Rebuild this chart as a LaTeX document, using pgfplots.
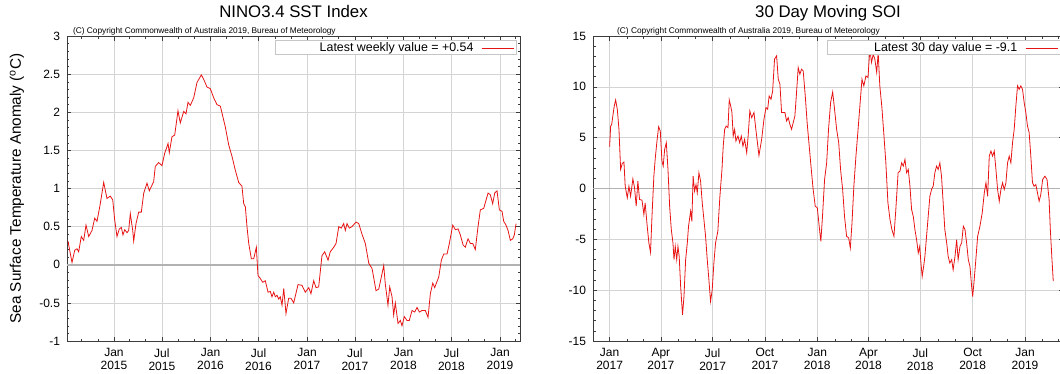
\documentclass[border=0pt]{standalone}
\usepackage{fontspec}
\setmainfont{Liberation Sans}
\usepackage{pgfplots}
\pgfplotsset{compat=1.18}
\definecolor{sstred}{RGB}{232,20,20}
\definecolor{gridgray}{RGB}{212,212,212}
\definecolor{zerogray}{RGB}{178,178,178}
\definecolor{framegray}{RGB}{60,60,60}

\newcommand{\legline}{\hspace{8.4pt}\textcolor{sstred}{\rule[2.9pt]{32.6pt}{0.8pt}}\hspace{7.4pt}}

\pgfplotsset{
  bomstyle/.style={
    scale only axis, height=305pt, anchor=south west,
    clip mode=individual,
    axis line style={framegray, line width=0.7pt},
    tick pos=both, tick align=inside,
    grid=major, major grid style={gridgray, line width=0.6pt},
    tick style={framegray, line width=0.5pt},
    major tick length=4.5pt, minor tick length=2.5pt,
    /pgf/number format/assume math mode=true,
    ticklabel style={font=\fontsize{12}{13}\selectfont},
    xticklabel style={align=center, yshift=-4pt},
    yticklabel style={xshift=-3.5pt},
    extra y ticks={0}, extra y tick labels={},
    extra y tick style={grid=major, major grid style={zerogray, line width=1.5pt}, major tick length=0pt},
    title style={font=\fontsize{16.8}{18}\selectfont, at={(0.5,1)}, anchor=base, yshift=12.3pt},
    legend plot pos=none,
    legend cell align=right,
    legend style={draw=gray!45, line width=0.5pt, fill=white, anchor=north east,
      inner xsep=0pt, inner ysep=0pt, column sep=0pt,
      font=\fontsize{12.4}{12.8}\selectfont, cells={inner sep=0pt}},
  },
  bomline/.style={sstred, line width=0.8pt},
}

\begin{document}
\begin{tikzpicture}
\begin{axis}[bomstyle,
  at={(67pt,32pt)}, width=453pt,
  xmin=2014.513, xmax=2019.207, ymin=-1, ymax=3,
  xtick={2015,2015.4959,2016,2016.4973,2017,2017.4959,2018,2018.4959,2019},
  xticklabels={Jan\\2015,Jul\\2015,Jan\\2016,Jul\\2016,Jan\\2017,Jul\\2017,Jan\\2018,Jul\\2018,Jan\\2019},
  minor xtick={2014.6658,2014.8329,2015.1616,2015.3288,2015.6658,2015.8329,2016.1639,2016.3306,2016.6667,2016.8333,2017.1616,2017.3288,2017.6658,2017.8329,2018.1616,2018.3288,2018.6658,2018.8329,2019.1616},
  ytick={-1,-0.5,0,0.5,1,1.5,2,2.5,3},
  minor y tick num=4,
  title={NINO3.4 SST Index},
  ylabel={Sea Surface Temperature Anomaly (\textsuperscript{o}C)},
  ylabel style={font=\fontsize{15.3}{16}\selectfont, at={(axis description cs:-0.1104,0.5)}, anchor=center},
  legend style={at={(0.9927,0.9869)}},
]
\addplot[bomline] coordinates {
(2014.523,0.31) (2014.565,0.03) (2014.593,0.19) (2014.617,0.21) (2014.634,0.17) (2014.661,0.37)
(2014.686,0.32) (2014.710,0.52) (2014.738,0.37) (2014.772,0.45) (2014.800,0.61) (2014.824,0.57)
(2014.858,0.80) (2014.893,1.08) (2014.927,0.87) (2014.962,0.90) (2014.987,0.85) (2015.007,0.59)
(2015.031,0.37) (2015.055,0.47) (2015.076,0.49) (2015.093,0.39) (2015.111,0.46) (2015.135,0.42)
(2015.152,0.45) (2015.169,0.67) (2015.194,0.45) (2015.204,0.31) (2015.228,0.54) (2015.256,0.69)
(2015.283,0.69) (2015.308,0.94) (2015.342,1.07) (2015.366,0.97) (2015.411,1.09) (2015.428,1.29)
(2015.463,1.34) (2015.497,1.30) (2015.525,1.46) (2015.560,1.59) (2015.573,1.47) (2015.601,1.68)
(2015.629,1.70) (2015.663,2.02) (2015.687,1.86) (2015.722,2.01) (2015.746,1.98) (2015.767,2.13)
(2015.791,2.09) (2015.826,2.19) (2015.860,2.39) (2015.905,2.49) (2015.930,2.43) (2015.964,2.33)
(2015.998,2.31) (2016.033,2.19) (2016.067,2.10) (2016.102,2.08) (2016.153,1.81) (2016.189,1.57)
(2016.223,1.42) (2016.257,1.24) (2016.292,1.08) (2016.326,1.03) (2016.344,0.80) (2016.361,0.76)
(2016.378,0.50) (2016.396,0.28) (2016.423,0.08) (2016.448,0.08) (2016.475,0.23) (2016.492,-0.14)
(2016.516,-0.18) (2016.541,-0.23) (2016.568,-0.21) (2016.596,-0.36) (2016.620,-0.35) (2016.637,-0.42)
(2016.655,-0.36) (2016.672,-0.42) (2016.689,-0.40) (2016.707,-0.45) (2016.723,-0.42) (2016.741,-0.53)
(2016.759,-0.31) (2016.782,-0.64) (2016.810,-0.44) (2016.834,-0.44) (2016.862,-0.50) (2016.907,-0.26)
(2016.948,-0.27) (2016.982,-0.36) (2017.018,-0.30) (2017.041,-0.38) (2017.069,-0.21) (2017.093,-0.30)
(2017.121,-0.29) (2017.155,0.12) (2017.183,0.17) (2017.218,0.06) (2017.241,0.17) (2017.277,0.23)
(2017.301,0.28) (2017.329,0.50) (2017.355,0.48) (2017.380,0.54) (2017.397,0.45) (2017.415,0.54)
(2017.438,0.48) (2017.466,0.50) (2017.508,0.56) (2017.536,0.54) (2017.570,0.40) (2017.604,0.28)
(2017.640,0.02) (2017.674,-0.05) (2017.715,-0.34) (2017.743,-0.32) (2017.777,-0.12) (2017.795,-0.01)
(2017.811,-0.25) (2017.839,-0.53) (2017.857,-0.29) (2017.881,-0.42) (2017.898,-0.66) (2017.915,-0.50)
(2017.943,-0.77) (2017.967,-0.73) (2017.984,-0.80) (2018.008,-0.68) (2018.036,-0.73) (2018.060,-0.73)
(2018.088,-0.60) (2018.116,-0.62) (2018.140,-0.56) (2018.164,-0.62) (2018.192,-0.60) (2018.226,-0.60)
(2018.254,-0.69) (2018.278,-0.38) (2018.303,-0.24) (2018.323,-0.30) (2018.365,-0.16) (2018.392,0.06)
(2018.417,0.14) (2018.451,0.14) (2018.475,0.28) (2018.510,0.52) (2018.537,0.46) (2018.565,0.47)
(2018.589,0.39) (2018.617,0.26) (2018.640,0.23) (2018.668,0.34) (2018.692,0.28) (2018.717,0.28)
(2018.744,0.20) (2018.772,0.50) (2018.796,0.72) (2018.831,0.74) (2018.876,0.94) (2018.899,0.92)
(2018.924,0.80) (2018.945,0.94) (2018.969,0.97) (2018.993,0.72) (2019.021,0.70) (2019.038,0.57)
(2019.062,0.52) (2019.083,0.45) (2019.107,0.32) (2019.132,0.34) (2019.148,0.39) (2019.166,0.54)
};
\addlegendentry{\makebox[196pt][r]{Latest weekly value = +0.54}\legline}
\node[anchor=base west, font=\fontsize{8.3}{9}\selectfont, inner sep=0pt] at (axis description cs:0.0132,1.0082) {(C) Copyright Commonwealth of Australia 2019, Bureau of Meteorology};
\end{axis}

\begin{axis}[bomstyle,
  at={(593pt,32pt)}, width=470pt,
  xmin=2016.920, xmax=2019.183, ymin=-15, ymax=15,
  xtick={2017,2017.2466,2017.4959,2017.7479,2018,2018.2466,2018.4959,2018.7479,2019},
  xticklabels={Jan\\2017,Apr\\2017,Jul\\2017,Oct\\2017,Jan\\2018,Apr\\2018,Jul\\2018,Oct\\2018,Jan\\2019},
  minor xtick={2017.0849,2017.1616,2017.3288,2017.4137,2017.5808,2017.6658,2017.8329,2017.9151,2018.0849,2018.1616,2018.3288,2018.4137,2018.5808,2018.6658,2018.8329,2018.9151,2019.0849,2019.1616},
  ytick={-15,-10,-5,0,5,10,15},
  minor y tick num=4,
  title={30 Day Moving SOI},
  legend style={at={(0.9945,0.9869)}},
]
\addplot[bomline] coordinates {
(2017.000,4.11) (2017.005,6.14) (2017.010,6.30) (2017.021,7.96) (2017.029,8.71) (2017.037,7.79)
(2017.045,5.82) (2017.053,1.87) (2017.061,2.47) (2017.069,2.60) (2017.075,0.23) (2017.085,-0.92)
(2017.093,0.23) (2017.101,-0.76) (2017.112,0.95) (2017.120,0.07) (2017.128,-1.74) (2017.136,0.72)
(2017.144,-1.08) (2017.156,-1.15) (2017.165,-2.56) (2017.171,-1.41) (2017.181,-3.71) (2017.189,-5.36)
(2017.197,-6.28) (2017.204,-2.73) (2017.213,1.21) (2017.220,3.03) (2017.228,4.67) (2017.236,6.08)
(2017.244,5.65) (2017.252,2.69) (2017.258,2.20) (2017.265,3.85) (2017.273,4.51) (2017.281,1.87)
(2017.289,-1.74) (2017.297,-4.04) (2017.305,-5.36) (2017.310,-7.00) (2017.316,-5.69) (2017.323,-7.00)
(2017.329,-5.69) (2017.335,-6.68) (2017.342,-9.63) (2017.351,-12.43) (2017.358,-10.62) (2017.366,-7.00)
(2017.374,-5.36) (2017.380,-3.71) (2017.390,-2.23) (2017.396,-3.22) (2017.402,1.21) (2017.409,-0.26)
(2017.416,0.39) (2017.422,-0.43) (2017.430,1.55) (2017.438,0.72) (2017.446,-1.41) (2017.454,-3.06)
(2017.462,-4.70) (2017.470,-7.00) (2017.478,-8.97) (2017.486,-11.11) (2017.494,-9.96) (2017.502,-7.33)
(2017.510,-5.36) (2017.521,-4.21) (2017.531,-0.76) (2017.541,1.87) (2017.547,4.17) (2017.554,5.82)
(2017.561,6.14) (2017.570,5.99) (2017.576,8.71) (2017.583,8.12) (2017.589,7.47) (2017.595,5.16)
(2017.602,5.82) (2017.608,4.67) (2017.618,5.16) (2017.626,4.51) (2017.634,5.16) (2017.642,4.17)
(2017.650,4.83) (2017.660,3.52) (2017.667,5.16) (2017.675,7.62) (2017.684,6.97) (2017.695,7.47)
(2017.704,5.82) (2017.719,3.25) (2017.732,4.83) (2017.743,6.80) (2017.753,7.96) (2017.761,7.79)
(2017.768,9.10) (2017.777,8.78) (2017.785,9.60) (2017.794,12.72) (2017.804,13.05) (2017.812,10.75)
(2017.820,10.26) (2017.828,7.47) (2017.836,7.47) (2017.844,7.47) (2017.852,6.64) (2017.860,6.97)
(2017.868,6.31) (2017.876,5.82) (2017.884,6.48) (2017.892,7.13) (2017.900,9.44) (2017.908,11.90)
(2017.916,11.24) (2017.924,11.74) (2017.932,11.57) (2017.942,9.10) (2017.951,6.48) (2017.961,4.17)
(2017.971,1.87) (2017.980,-0.10) (2017.990,-1.74) (2018.000,-1.90) (2018.009,-3.71) (2018.017,-5.20)
(2018.025,-2.73) (2018.035,0.89) (2018.045,2.53) (2018.054,5.82) (2018.064,8.45) (2018.074,9.50)
(2018.083,7.79) (2018.093,5.82) (2018.103,4.51) (2018.112,1.87) (2018.122,-0.10) (2018.131,-2.73)
(2018.141,-4.70) (2018.151,-4.86) (2018.159,-5.85) (2018.167,-3.38) (2018.176,0.23) (2018.186,3.19)
(2018.195,5.49) (2018.205,8.12) (2018.215,10.75) (2018.224,10.09) (2018.234,11.07) (2018.244,10.92)
(2018.253,13.71) (2018.261,12.40) (2018.269,13.21) (2018.277,12.72) (2018.286,11.41) (2018.293,13.38)
(2018.301,10.09) (2018.311,7.96) (2018.321,5.16) (2018.330,2.53) (2018.340,-1.41) (2018.350,-3.06)
(2018.359,-4.04) (2018.369,-4.70) (2018.378,-2.07) (2018.389,1.55) (2018.398,1.71) (2018.406,2.53)
(2018.414,2.20) (2018.422,2.86) (2018.430,1.55) (2018.438,1.87) (2018.446,0.23) (2018.454,-2.07)
(2018.462,-2.73) (2018.470,-4.04) (2018.478,-5.03) (2018.486,-6.34) (2018.493,-5.69) (2018.499,-7.33)
(2018.505,-8.65) (2018.512,-7.66) (2018.518,-6.68) (2018.526,-4.70) (2018.534,-2.73) (2018.542,-0.76)
(2018.550,-0.10) (2018.558,0.23) (2018.566,1.55) (2018.574,2.20) (2018.582,1.87) (2018.590,2.53)
(2018.598,1.21) (2018.606,-1.41) (2018.614,-4.04) (2018.623,-5.36) (2018.630,-6.68) (2018.638,-7.33)
(2018.647,-7.00) (2018.654,-7.99) (2018.663,-6.68) (2018.671,-5.03) (2018.678,-7.00) (2018.687,-5.69)
(2018.695,-5.36) (2018.703,-3.71) (2018.711,-4.04) (2018.719,-5.36) (2018.727,-7.00) (2018.735,-7.66)
(2018.743,-9.63) (2018.748,-10.62) (2018.754,-9.30) (2018.762,-7.33) (2018.772,-4.70) (2018.783,-3.71)
(2018.794,-2.40) (2018.804,-0.43) (2018.812,0.56) (2018.820,-0.76) (2018.828,3.19) (2018.836,3.68)
(2018.844,3.19) (2018.852,3.68) (2018.860,1.87) (2018.868,-0.10) (2018.876,-1.25) (2018.884,-0.10)
(2018.892,0.56) (2018.900,-0.10) (2018.908,0.56) (2018.916,2.53) (2018.924,3.19) (2018.932,2.53)
(2018.940,4.51) (2018.948,5.82) (2018.956,8.12) (2018.964,10.09) (2018.972,9.76) (2018.980,10.09)
(2018.988,9.76) (2018.996,8.45) (2019.004,7.47) (2019.012,6.14) (2019.020,5.49) (2019.028,3.19)
(2019.036,0.56) (2019.044,0.23) (2019.052,0.39) (2019.060,-0.43) (2019.068,-1.25) (2019.076,-0.59)
(2019.085,0.89) (2019.096,1.21) (2019.106,0.89) (2019.116,-1.08) (2019.122,-4.04) (2019.129,-6.68)
(2019.136,-9.10)
};
\addlegendentry{\makebox[187.7pt][r]{Latest 30 day value = -9.1}\legline}
\node[anchor=base west, font=\fontsize{8.3}{9}\selectfont, inner sep=0pt] at (axis description cs:0.0511,1.0082) {(C) Copyright Commonwealth of Australia 2019, Bureau of Meteorology};
\end{axis}
\pgfresetboundingbox
\path[use as bounding box] (0pt,0pt) rectangle (1060pt,373pt);
\end{tikzpicture}
\end{document}
